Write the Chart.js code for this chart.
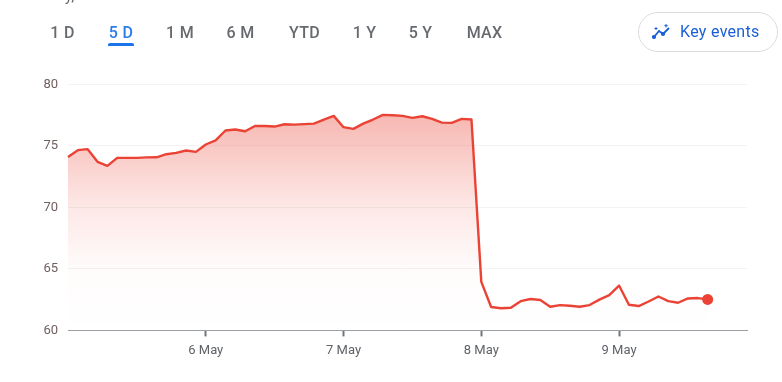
<!DOCTYPE html>
<html>
<head>
<meta charset="utf-8">
<title>5 D price chart</title>
<script src="https://cdn.jsdelivr.net/npm/chart.js@4/dist/chart.umd.min.js"></script>
<style>
    html, body { margin: 0; padding: 0; background: #fff; overflow: hidden; }
    body { width: 782px; height: 382px; position: relative; font-family: Roboto, sans-serif; }
    canvas { position: absolute; left: 0; top: 0; }
    .tab { position: absolute; top: 23px; font-size: 16px; font-weight: 500; letter-spacing: 0.3px; color: #666a6f; transform: translateX(-50%); white-space: nowrap; }
    .tab.active { color: #2a7de9; }
    .underline { position: absolute; left: 108px; top: 43px; width: 26px; height: 3px; background: #1a73e8; border-radius: 2px 2px 0 0; }
    .cut { position: absolute; left: 65px; top: -13px; font-size: 15px; color: #5f6368; }
    .key { position: absolute; left: 638px; top: 12px; width: 138px; height: 38px; border: 1px solid #dadce0; border-radius: 20px; }
    .key span { position: absolute; left: 41px; top: 9px; font-size: 16px; font-weight: 400; letter-spacing: 0.3px; color: #1a5fd8; white-space: nowrap; }
    .key svg { position: absolute; left: 13px; top: 9px; }
</style>
</head>
<body>
<canvas id="priceChart" width="782" height="382"></canvas>
<div class="cut">y,</div>
<div id="tabs"></div>
<div class="underline"></div>
<div class="key">
    <svg width="20" height="20" viewBox="0 0 20 20" fill="none" stroke="#1a5fd8" stroke-width="1.8">
        <path d="M2 15 L7 9 L11 12 L17 6"/>
        <circle cx="2" cy="15" r="1.2" fill="#1a5fd8"/>
        <circle cx="11" cy="12" r="1.2" fill="#1a5fd8"/>
        <path d="M4 5v3M2.500 6.500h3M14 2v3.500M12.300 3.700h3.500" stroke-width="1"/>
    </svg>
    <span>Key events</span>
</div>
<script>
// values, one point every 9.84px
const prices = [
    74.11, 74.66, 74.74, 73.71, 73.38, 74.03, 74.03, 74.03, 74.07, 74.08,
    74.33, 74.44, 74.63, 74.52, 75.12, 75.45, 76.26, 76.34, 76.20, 76.63,
    76.63, 76.58, 76.77, 76.74, 76.78, 76.82, 77.15, 77.45, 76.53, 76.39,
    76.82, 77.15, 77.53, 77.50, 77.45, 77.29, 77.42, 77.20, 76.90, 76.88,
    77.20, 77.15, 63.95, 61.90, 61.80, 61.84, 62.38, 62.55, 62.47, 61.92,
    62.06, 62.00, 61.92, 62.06, 62.50, 62.87, 63.65, 62.09, 61.98, 62.35,
    62.76, 62.38, 62.25, 62.60, 62.63, 62.52
];
const dayLabels = ['6 May', '7 May', '8 May', '9 May'];
const daySlots = [14, 28, 42, 56];
const slotCount = 70;
const yTicks = [60, 65, 70, 75, 80];
const tabLabels = ['1 D', '5 D', '1 M', '6 M', 'YTD', '1 Y', '5 Y', 'MAX'];
const tabCentres = [62.5, 121, 180, 240.5, 304.5, 364.5, 420.5, 484.5];

tabLabels.forEach((label, i) => {
    const tab = document.createElement('div');
    tab.className = label === '5 D' ? 'tab active' : 'tab';
    tab.style.left = tabCentres[i] + 'px';
    tab.textContent = label;
    document.getElementById('tabs').appendChild(tab);
});

const xLabels = [];
for (let i = 0; i < slotCount; i++) {
    const d = daySlots.indexOf(i);
    xLabels.push(d >= 0 ? dayLabels[d] : '');
}

new Chart(document.getElementById('priceChart').getContext('2d'), {
    type: 'line',
    data: {
        labels: xLabels,
        datasets: [{
            data: prices,
            borderColor: '#ea4335',
            borderWidth: 2.4,
            borderJoinStyle: 'round',
            tension: 0,
            fill: 'start',
            backgroundColor: (ctx) => {
                const area = ctx.chart.chartArea;
                if (!area) return 'transparent';
                const g = ctx.chart.ctx.createLinearGradient(0, area.top, 0, area.bottom);
                g.addColorStop(0, 'rgba(234,67,53,0.46)');
                g.addColorStop(0.126, 'rgba(234,67,53,0.38)');
                g.addColorStop(0.5, 'rgba(234,67,53,0.12)');
                g.addColorStop(0.75, 'rgba(234,67,53,0.02)');
                g.addColorStop(1, 'rgba(234,67,53,0)');
                return g;
            },
            pointRadius: (ctx) => ctx.dataIndex === prices.length - 1 ? 5.5 : 0,
            pointBackgroundColor: '#ea4335',
            pointBorderWidth: 0
        }]
    },
    options: {
        responsive: false,
        animation: false,
        layout: { padding: { top: 84.5, right: 35, left: 0, bottom: 0 } },
        plugins: { legend: { display: false }, tooltip: { enabled: false } },
        scales: {
            x: {
                type: 'category',
                offset: false,
                afterBuildTicks: (scale) => {
                    scale.ticks = scale.ticks.filter(t => daySlots.includes(t.value));
                },
                afterFit: (scale) => { scale.height = 51.6; },
                grid: { drawOnChartArea: false, drawTicks: true, tickLength: 6, tickColor: '#70757a', tickWidth: 2 },
                border: { color: '#9aa0a6', width: 1 },
                ticks: {
                    autoSkip: false,
                    maxRotation: 0,
                    padding: 7,
                    color: '#5f6368',
                    font: { family: 'Roboto', size: 13 },
                    callback: (value) => xLabels[value]
                }
            },
            y: {
                min: 60,
                max: 80,
                afterBuildTicks: (scale) => {
                    scale.ticks = yTicks.map(v => ({ value: v }));
                },
                afterFit: (scale) => { scale.width = 68; },
                grid: {
                    color: (ctx) => ctx.tick && ctx.tick.value === 60 ? 'rgba(0,0,0,0)' : '#f1f3f4',
                    drawTicks: false
                },
                border: { display: false },
                ticks: {
                    padding: 10,
                    color: '#70605f',
                    font: { family: 'Roboto', size: 13 }
                }
            }
        }
    }
});
</script>
</body>
</html>
